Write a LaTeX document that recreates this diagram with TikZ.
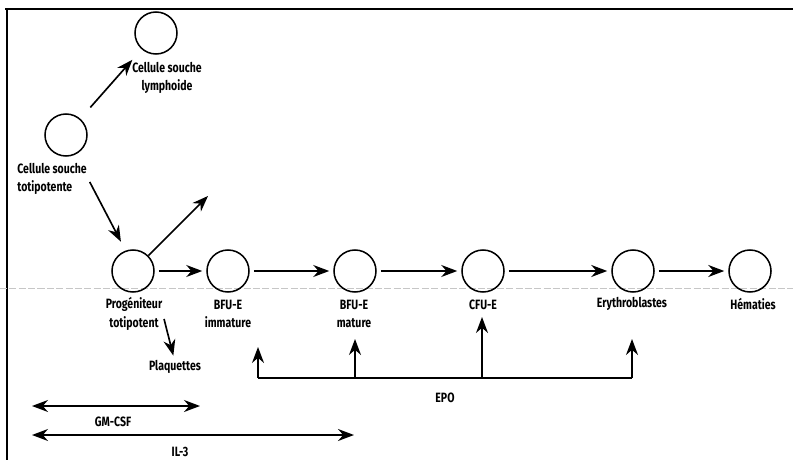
\documentclass[tikz,border=0pt]{standalone}
\usepackage{fontspec}
\setmainfont{Fira Sans}[FakeStretch=0.78]
\usetikzlibrary{arrows.meta}
\begin{document}
\begin{tikzpicture}[x=0.03cm,y=-0.03cm,
  font=\bfseries\fontsize{11.5}{16}\selectfont,
  cellule/.style={circle,draw,line width=1.3pt,minimum size=1.26cm,inner sep=0pt},
  texte/.style={align=center,inner sep=1pt},
  fleche/.style={line width=1.4pt,-{Stealth[length=4.8mm,width=3.6mm]}},
  double fleche/.style={line width=1.4pt,{Stealth[length=4.8mm,width=3.6mm]}-{Stealth[length=4.8mm,width=3.6mm]}},
  suite/.style={fleche,shorten <=1.2mm,shorten >=1.2mm}]
\useasboundingbox (0,0) rectangle (793,460);
% cadre et trace du scan
\draw[line width=1pt] (5,9) -- (793,9);
\draw[line width=1pt] (7,9) -- (7,460);
\draw[gray!45,line width=0.4pt,dash pattern=on 6pt off 2pt] (0,288) -- (793,288);
% cellules
\node[cellule] (lymph) at (156,33) {};
\node[cellule] (tot) at (66,135) {};
\foreach \nom/\x in {prog/133,bfui/228,bfum/355,cfu/483,ery/633,hem/750}
  \node[cellule] (\nom) at (\x,271) {};
\node[texte] (lymphtxt) at (167,78) {Cellule souche\\lymphoide};
\node[texte,align=left,anchor=west] (tottxt) at (16,179) {Cellule souche\\totipotente};
\node[texte] (progtxt) at (134,314) {Progéniteur\\totipotent};
\node[texte] (bfuitxt) at (228,314) {BFU-E\\immature};
\node[texte] (bfumtxt) at (354,314) {BFU-E\\mature};
\node[texte] (cfutxt) at (483,305) {CFU-E};
\node[texte] (erytxt) at (632,304) {Erythroblastes};
\node[texte] (hemtxt) at (753,304) {Hématies};
\node[texte] (plaq) at (175,367) {Plaquettes};
% filiation
\coordinate (autre) at (208,196);
\draw[fleche,shorten <=4.5mm,shorten >=4.2mm] (tot) -- (lymph);
\draw[fleche,shorten <=1mm,shorten >=3mm] (tottxt.east) -- (prog.110);
\draw[fleche] (prog.45) -- (autre);
\draw[fleche,shorten <=0.5mm] ([yshift=-1mm]progtxt.east) -- ([xshift=-0.5mm,yshift=1mm]plaq.north);
\foreach \a/\b in {prog/bfui,bfui/bfum,bfum/cfu,cfu/ery,ery/hem}
  \draw[suite] (\a) -- (\b);
% EPO
\foreach \c/\x/\y in {e1/258/347,e2/355/339,e3/482/317,e4/632/339}
  \coordinate (\c) at (\x,\y);
\coordinate (epog) at (258,378);
\coordinate (epod) at (632,378);
\draw[line width=1.4pt] (epog) -- (epod);
\foreach \c in {e1,e2,e3,e4}
  \draw[fleche] (\c |- epog) -- (\c);
\node[texte] (epo) at (445,398) {EPO};
% facteurs de croissance
\coordinate (gmg) at (32,406);
\coordinate (gmd) at (200,406);
\coordinate (ilg) at (32,435);
\coordinate (ild) at (354,435);
\draw[double fleche] (gmg) -- (gmd);
\draw[double fleche] (ilg) -- (ild);
\node[texte] (gmcsf) at (113,422) {GM-CSF};
\node[texte] (il3) at (180,452) {IL-3};
\end{tikzpicture}
\end{document}
